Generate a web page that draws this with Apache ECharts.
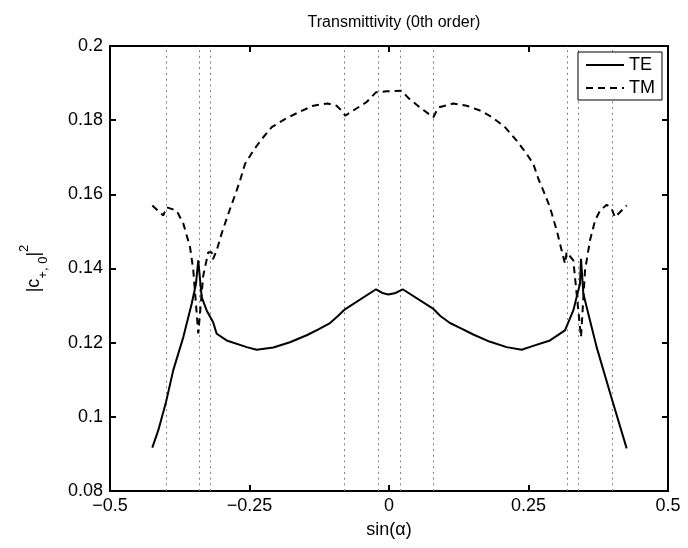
<!DOCTYPE html>
<html><head><meta charset="utf-8">
<script src="https://cdn.jsdelivr.net/npm/echarts@6/dist/echarts.min.js"></script>
<style>html,body{margin:0;padding:0;background:#fff}#c{width:688px;height:548px}</style>
</head><body><div id="c"></div>
<script>
const titleText = 'Transmittivity (0th order)';
const xTicks = [-0.5, -0.25, 0, 0.25, 0.5];
const yTicks = [0.08, 0.1, 0.12, 0.14, 0.16, 0.18, 0.2];
const anomalies = [-0.4, -0.343, -0.316, -0.079, -0.024, 0.024, 0.079, 0.316, 0.343, 0.4];

const teX = [-0.4242, -0.4134, -0.3996, -0.3866, -0.3686, -0.3536, -0.3459, -0.3418, -0.3357, -0.3268, -0.3154, -0.3088, -0.2909, -0.2550, -0.2371, -0.2073, -0.1775, -0.1475, -0.1265, -0.1057, -0.0920, -0.0789, -0.0233, -0.0120, -0.0012, 0.0120, 0.0245, 0.0789, 0.0920, 0.1093, 0.1300, 0.1510, 0.1800, 0.2109, 0.2378, 0.2557, 0.2885, 0.3154, 0.3303, 0.3423, 0.3441, 0.3483, 0.3602, 0.3721, 0.3990, 0.4259];
const teY = [0.0917, 0.0964, 0.1040, 0.1126, 0.1215, 0.1305, 0.1359, 0.1422, 0.1323, 0.1287, 0.1256, 0.1224, 0.1206, 0.1188, 0.1181, 0.1187, 0.1201, 0.1220, 0.1236, 0.1253, 0.1271, 0.1290, 0.1344, 0.1334, 0.1330, 0.1334, 0.1344, 0.1292, 0.1272, 0.1253, 0.1238, 0.1222, 0.1203, 0.1188, 0.1181, 0.1190, 0.1206, 0.1233, 0.1287, 0.1359, 0.1426, 0.1332, 0.1260, 0.1188, 0.1050, 0.0915];

const tmX = [-0.4242, -0.4045, -0.4010, -0.3984, -0.3806, -0.3686, -0.3566, -0.3507, -0.3418, -0.3330, -0.3239, -0.3180, -0.3154, -0.3088, -0.3000, -0.2881, -0.2731, -0.2670, -0.2581, -0.2431, -0.2281, -0.2102, -0.1864, -0.1625, -0.1357, -0.1106, -0.0938, -0.0820, -0.0785, -0.0641, -0.0401, -0.0235, -0.0042, 0.0227, 0.0346, 0.0556, 0.0794, 0.0884, 0.1152, 0.1392, 0.1631, 0.1840, 0.2079, 0.2288, 0.2467, 0.2587, 0.2676, 0.2766, 0.2885, 0.3005, 0.3094, 0.3154, 0.3183, 0.3303, 0.3441, 0.3513, 0.3602, 0.3692, 0.3781, 0.3901, 0.3990, 0.4050, 0.4259];
const tmY = [0.1570, 0.1543, 0.1540, 0.1565, 0.1556, 0.1521, 0.1458, 0.1395, 0.1225, 0.1380, 0.1444, 0.1444, 0.1425, 0.1449, 0.1494, 0.1547, 0.1610, 0.1637, 0.1682, 0.1718, 0.1749, 0.1781, 0.1803, 0.1821, 0.1839, 0.1845, 0.1839, 0.1821, 0.1812, 0.1826, 0.1849, 0.1875, 0.1878, 0.1879, 0.1860, 0.1834, 0.1808, 0.1834, 0.1845, 0.1839, 0.1826, 0.1809, 0.1781, 0.1745, 0.1709, 0.1682, 0.1642, 0.1610, 0.1565, 0.1503, 0.1449, 0.1413, 0.1444, 0.1422, 0.1215, 0.1395, 0.1476, 0.1529, 0.1556, 0.1572, 0.1561, 0.1538, 0.1570];

const FONT = "'Liberation Sans', Arial, Helvetica, sans-serif";
const pair = (xs, ys) => xs.map((x, i) => [x, ys[i]]);
const fmtNum = v => (+v.toFixed(3)).toString().replace('-', '\u2212');

const chart = echarts.init(document.getElementById('c'), null, {renderer: 'canvas'});
const xMin = xTicks[0], xMax = xTicks[xTicks.length - 1], xInt = xTicks[1] - xTicks[0];
const yMin = yTicks[0], yMax = yTicks[yTicks.length - 1], yInt = +(yTicks[1] - yTicks[0]).toFixed(4);

const baseAxisX = {type: 'value', min: xMin, max: xMax, interval: xInt,
  axisLine: {show: true, onZero: false, lineStyle: {color: '#000', width: 2}},
  axisTick: {show: true, inside: true, length: 6, lineStyle: {color: '#000', width: 2}},
  splitLine: {show: false}};
const baseAxisY = {type: 'value', min: yMin, max: yMax, interval: yInt,
  axisLine: {show: true, onZero: false, lineStyle: {color: '#000', width: 2}},
  axisTick: {show: true, inside: true, length: 6, lineStyle: {color: '#000', width: 2}},
  splitLine: {show: false}};

chart.setOption({
  animation: false,
  backgroundColor: '#fff',
  textStyle: {fontFamily: FONT},
  title: {text: titleText, left: 389, top: 10, textAlign: 'center',
    textStyle: {fontFamily: FONT, fontSize: 16, fontWeight: 'normal', color: '#000'}},
  grid: {left: 110, right: 20, top: 46, bottom: 57, containLabel: false},
  legend: {
    left: 578, top: 52, orient: 'vertical',
    data: ['TE', 'TM'],
    borderColor: '#000', borderWidth: 1, padding: [4, 7, 3, 7],
    itemWidth: 38, itemHeight: 14, itemGap: 5,
    itemStyle: {opacity: 0},
    textStyle: {fontFamily: FONT, fontSize: 18, color: '#000'},
    backgroundColor: '#fff'
  },
  xAxis: [
    Object.assign({}, baseAxisX, {position: 'bottom',
      name: 'sin(\u03b1)', nameLocation: 'middle', nameGap: 30,
      nameTextStyle: {fontFamily: FONT, fontSize: 18, color: '#000'},
      axisLabel: {show: true, margin: 6, color: '#000', fontFamily: FONT, fontSize: 18, formatter: fmtNum}}),
    Object.assign({}, baseAxisX, {position: 'top', axisLabel: {show: false}})
  ],
  yAxis: [
    Object.assign({}, baseAxisY, {position: 'left',
      name: '{a||c}{sub|+, 0}{a||}{sup|2}', nameLocation: 'middle', nameGap: 60,
      nameTextStyle: {fontFamily: FONT, color: '#000',
        rich: {
          a: {fontFamily: FONT, fontSize: 18, color: '#000', lineHeight: 32},
          sub: {fontFamily: FONT, fontSize: 13, color: '#000', verticalAlign: 'bottom', lineHeight: 32},
          sup: {fontFamily: FONT, fontSize: 13, color: '#000', verticalAlign: 'top', lineHeight: 32}
        }},
      axisLabel: {show: true, margin: 7, color: '#000', fontFamily: FONT, fontSize: 18, formatter: fmtNum}}),
    Object.assign({}, baseAxisY, {position: 'right', axisLabel: {show: false}})
  ],
  series: [
    {name: 'TE', type: 'line', xAxisIndex: 0, yAxisIndex: 0, data: pair(teX, teY),
      symbol: 'none', smooth: false, z: 5,
      lineStyle: {color: '#000', width: 2, type: 'solid'}, itemStyle: {color: '#000'},
      markLine: {silent: true, symbol: 'none', animation: false, z: 1,
        label: {show: false},
        lineStyle: {color: '#808080', width: 1, type: [2, 3.7]},
        emphasis: {disabled: true},
        data: anomalies.map(v => ({xAxis: v}))}},
    {name: 'TM', type: 'line', xAxisIndex: 0, yAxisIndex: 0, data: pair(tmX, tmY),
      symbol: 'none', smooth: false, z: 6,
      lineStyle: {color: '#000', width: 2, type: [7, 5]}, itemStyle: {color: '#000'}}
  ]
});
</script></body></html>
